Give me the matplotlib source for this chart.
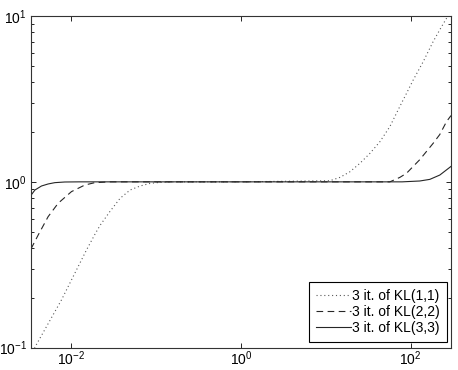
import numpy as np
import matplotlib
matplotlib.use('Agg')
import matplotlib.pyplot as plt
from matplotlib.ticker import LogLocator, NullLocator

plt.rcParams['font.family'] = ['Liberation Sans', 'DejaVu Sans']
plt.rcParams['font.size'] = 10
plt.rcParams['mathtext.default'] = 'regular'

# values (x, y)
x_kl11 = [3.33e-3, 3.87e-3, 7.62e-3, 0.01503, 0.01888, 0.02178, 0.02858, 0.0375, 0.0492,
          0.0646, 0.0847, 0.111, 0.166, 1.0, 11.2, 14.7, 19.3, 25.3, 33.2, 43.5, 57.0,
          74.8, 89.7, 107.4, 140.9, 184.5, 231.7, 265.5, 300.0]
y_kl11 = [0.090, 0.1047, 0.194, 0.388, 0.482, 0.547, 0.665, 0.796, 0.893,
          0.944, 0.979, 0.993, 1.0, 1.0, 1.016, 1.064, 1.151, 1.294, 1.486, 1.746, 2.153,
          2.85, 3.42, 4.11, 5.30, 7.00, 8.61, 9.68, 11.0]

x_kl22 = [3.33e-3, 4.06e-3, 5.31e-3, 6.97e-3, 0.01, 0.01439, 0.01888, 0.0286, 1.0,
          57.0, 74.8, 89.7, 128.5, 184.5, 221.3, 265.5, 300.0]
y_kl22 = [0.394, 0.479, 0.617, 0.743, 0.873, 0.957, 0.989, 1.0, 1.0,
          1.0, 1.064, 1.127, 1.361, 1.706, 1.93, 2.307, 2.51]

x_kl33 = [3.33e-3, 3.71e-3, 4.43e-3, 5.31e-3, 6.37e-3, 8.36e-3, 0.0126, 1.0,
          79.4, 128.5, 168.7, 221.3, 300.0]
y_kl33 = [0.830, 0.893, 0.944, 0.971, 0.989, 0.998, 1.0, 1.0,
          1.0, 1.012, 1.035, 1.099, 1.239]

labels = ['3 it. of KL(1,1)', '3 it. of KL(2,2)', '3 it. of KL(3,3)']

fig = plt.figure(figsize=(4.58, 3.70), dpi=100)
ax = fig.add_axes([31 / 458, 22.3 / 370, 420 / 458, 331.7 / 370])

ax.loglog(x_kl11, y_kl11, color='0.35', lw=0.8, linestyle=(0, (1, 2.5)), label=labels[0])
ax.loglog(x_kl22, y_kl22, color='0.15', lw=0.8, linestyle=(0, (6, 4)), label=labels[1])
ax.loglog(x_kl33, y_kl33, color='0.15', lw=0.8, linestyle='-', label=labels[2])

ax.set_xlim(1 / 300, 300)
ax.set_ylim(0.1, 10)

ax.xaxis.set_major_locator(LogLocator(base=100.0))
ax.xaxis.set_minor_locator(NullLocator())
ax.yaxis.set_major_locator(LogLocator(base=10.0))
ax.yaxis.set_minor_locator(LogLocator(base=10.0, subs=np.arange(2, 10)))

ax.tick_params(which='both', direction='in', top=True, right=True, width=0.6)
ax.tick_params(which='major', length=3.5)
ax.tick_params(which='minor', length=2)
ax.tick_params(axis='x', which='major', pad=1.5)
ax.tick_params(axis='y', which='major', pad=3)
for s in ax.spines.values():
    s.set_linewidth(0.8)
    s.set_color('0.2')

leg = ax.legend(loc='lower right', bbox_to_anchor=(0.99, 0.017), borderaxespad=0,
                fancybox=False, edgecolor='black', framealpha=1,
                handlelength=2.5, handletextpad=0.1, labelspacing=0.15,
                borderpad=0.5)
leg.get_frame().set_linewidth(0.8)

fig.savefig('out.png', dpi=100)
